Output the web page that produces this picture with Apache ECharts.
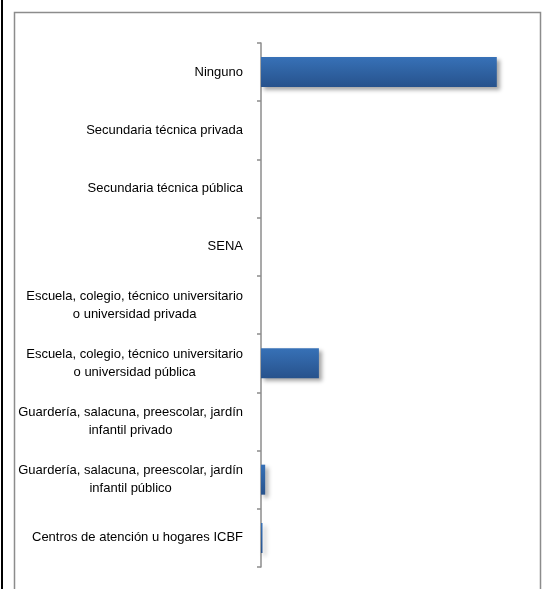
<!DOCTYPE html>
<html>
<head>
<meta charset="utf-8">
<script src="https://cdn.jsdelivr.net/npm/echarts@6/dist/echarts.min.js"></script>
<style>
html, body { margin: 0; padding: 0; background: #fff; }
#chart { width: 542px; height: 589px; }
</style>
</head>
<body>
<div id="chart"></div>
<script>
// categorias de abajo hacia arriba
var categorias = [
	'Centros de atención u hogares ICBF',
	'Guardería, salacuna, preescolar, jardín\ninfantil público',
	'Guardería, salacuna, preescolar, jardín\ninfantil privado',
	'Escuela, colegio, técnico universitario\no universidad pública',
	'Escuela, colegio, técnico universitario\no universidad privada',
	'SENA',
	'Secundaria técnica pública',
	'Secundaria técnica privada',
	'Ninguno'
];
// porcentaje (estimado del grafico)
var valores = [0.5, 1.4, 0, 19.3, 0, 0, 0, 0, 78.6];

var chart = echarts.init(document.getElementById('chart'));

var option = {
	animation : false,
	backgroundColor : '#fff',
	graphic : [ {
		type : 'rect',
		shape : { x : 1, y : 0, width : 2, height : 589 },
		style : { fill : '#000' }
	}, {
		type : 'rect',
		shape : { x : 14.5, y : 12.5, width : 526, height : 600 },
		style : { fill : 'none', stroke : '#8c8c8c', lineWidth : 1.5 }
	} ],
	grid : {
		left : 261,
		top : 43,
		width : 270,
		bottom : 22
	},
	xAxis : {
		type : 'value',
		min : 0,
		max : 90,
		show : false
	},
	yAxis : {
		type : 'category',
		data : categorias,
		axisLine : { show : true, lineStyle : { color : '#8c8c8c', width : 1.5 } },
		axisTick : {
			show : true,
			interval : 0,
			length : 4,
			lineStyle : { color : '#8c8c8c', width : 1.5 }
		},
		axisLabel : {
			interval : 0,
			margin : 18,
			align : 'right',
			formatter : function(v) {
				return v.split('\n').map(function(l) {
					return '{c|' + l + '}';
				}).join('\n');
			},
			rich : {
				c : {
					align : 'center',
					fontFamily : 'Liberation Sans, Arial, sans-serif',
					fontSize : 13,
					color : '#000',
					lineHeight : 18
				}
			}
		}
	},
	series : [ {
		type : 'bar',
		data : valores,
		barWidth : 30,
		itemStyle : {
			color : new echarts.graphic.LinearGradient(0, 0, 0, 1, [
				{ offset : 0, color : '#3771b7' },
				{ offset : 1, color : '#27528c' }
			]),
			shadowColor : 'rgba(0,0,0,0.35)',
			shadowBlur : 4,
			shadowOffsetX : 3,
			shadowOffsetY : 3
		}
	} ]
};
chart.setOption(option);
</script>
</body>
</html>
